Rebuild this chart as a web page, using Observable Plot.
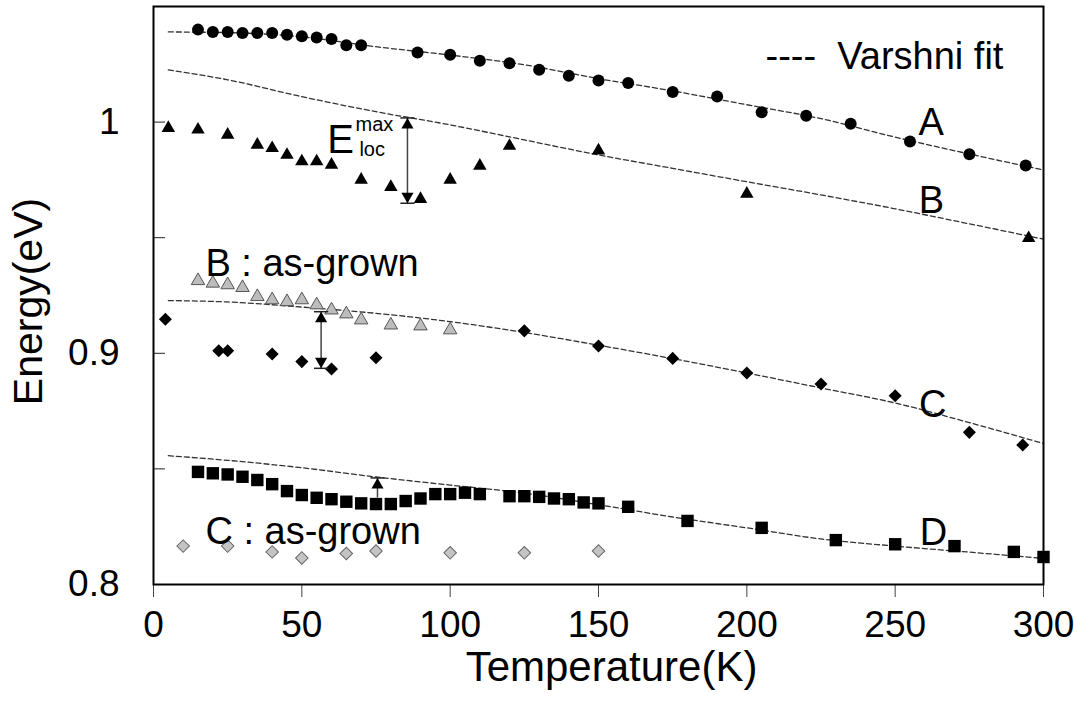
<!DOCTYPE html>
<html>
<head>
<meta charset="utf-8">
<script src="https://cdn.jsdelivr.net/npm/d3@7"></script>
<script src="https://cdn.jsdelivr.net/npm/@observablehq/plot@0.6"></script>
<style>
  html, body { margin: 0; padding: 0; background: #fff; }
  #chart { width: 1077px; height: 707px; }
</style>
</head>
<body>
<div id="chart"></div>
<script>
// ---------- data ----------
// Peak A (filled circles)
const tempA = [15, 20, 25, 30, 35, 40, 45, 50, 55, 60, 65, 70, 89, 100, 110, 120, 130, 140, 150, 160, 175, 190, 205, 220, 235, 255, 275, 294];
const energyA = [1.0400, 1.0390, 1.0390, 1.0385, 1.0385, 1.0385, 1.0378, 1.0371, 1.0366, 1.0359, 1.0332, 1.0332, 1.0301, 1.0291, 1.0265, 1.0255, 1.0226, 1.0200, 1.0180, 1.0169, 1.0130, 1.0111, 1.0043, 1.0027, 0.9993, 0.9916, 0.9861, 0.9812];
// Peak B (filled triangles)
const tempB = [5, 15, 25, 35, 40, 45, 50, 55, 60, 70, 80, 90, 100, 110, 120, 150, 200, 295];
const energyB = [0.9974, 0.9967, 0.9945, 0.9902, 0.9887, 0.9858, 0.9830, 0.9830, 0.9815, 0.9750, 0.9719, 0.9667, 0.9750, 0.9811, 0.9897, 0.9877, 0.9690, 0.9498];
// Peak B, as-grown (grey triangles)
const tempBgrown = [15, 20, 25, 30, 35, 40, 45, 50, 55, 60, 65, 70, 80, 90, 100];
const energyBgrown = [0.9314, 0.9303, 0.9296, 0.9284, 0.9245, 0.9231, 0.9223, 0.9231, 0.9209, 0.9187, 0.9170, 0.9144, 0.9122, 0.9118, 0.9101];
// Peak C (filled diamonds)
const tempC = [4, 22, 25, 40, 50, 60, 75, 125, 150, 175, 200, 225, 250, 275, 293];
const energyC = [0.9147, 0.9011, 0.9011, 0.8997, 0.8964, 0.8932, 0.8981, 0.9097, 0.9032, 0.8978, 0.8915, 0.8867, 0.8816, 0.8658, 0.8603];
// Peak C, as-grown (grey diamonds)
const tempCgrown = [10, 25, 40, 50, 65, 75, 100, 125, 150];
const energyCgrown = [0.8166, 0.8166, 0.8141, 0.8115, 0.8134, 0.8145, 0.8137, 0.8137, 0.8145];
// Peak D (filled squares)
const tempD = [15, 20, 25, 30, 35, 40, 45, 50, 55, 60, 65, 70, 75, 80, 85, 90, 95, 100, 105, 110, 120, 125, 130, 135, 140, 145, 150, 160, 180, 205, 230, 250, 270, 290, 300];
const energyD = [0.8487, 0.8481, 0.8476, 0.8466, 0.8452, 0.8434, 0.8404, 0.8387, 0.8375, 0.8369, 0.8358, 0.8351, 0.8348, 0.8348, 0.8361, 0.8372, 0.8391, 0.8391, 0.8397, 0.8391, 0.8382, 0.8382, 0.8379, 0.8372, 0.8369, 0.8355, 0.8351, 0.8336, 0.8275, 0.8245, 0.8192, 0.8174, 0.8166, 0.8141, 0.8119];

// Varshni fit curves
const fitTemp = [5, 25, 50, 75, 100, 125, 150, 175, 200, 225, 250, 275, 300];
const fitA = [1.0390, 1.0387, 1.0369, 1.0326, 1.0290, 1.0248, 1.0188, 1.0135, 1.0075, 1.0015, 0.9935, 0.9862, 0.9793];
const fitB = [1.0226, 1.0183, 1.0110, 1.0045, 0.9988, 0.9923, 0.9858, 0.9800, 0.9742, 0.9685, 0.9625, 0.9560, 0.9494];
const fitC = [0.9228, 0.9222, 0.9200, 0.9173, 0.9137, 0.9090, 0.9035, 0.8977, 0.8915, 0.8850, 0.8785, 0.8700, 0.8610];
const fitD = [0.8557, 0.8537, 0.8505, 0.8465, 0.8430, 0.8395, 0.8345, 0.8292, 0.8245, 0.8197, 0.8166, 0.8140, 0.8113];

// Localisation-energy arrows (B, C, D)
const arrowTemp = [85.6, 56.5, 75.5];
const arrowTop = [1.0018, 0.9180, 0.8461];
const arrowBottom = [0.9649, 0.8935, 0.8374];
const arrowHasBottomHead = [true, true, false];

// Axis ticks
const xTicks = [0, 50, 100, 150, 200, 250, 300];
const yTickMarks = [0.8, 0.85, 0.9, 0.95, 1.0];
const yTickLabels = [0.8, 0.9, 1.0];

// Annotation texts
const curveNames = ["A", "B", "C", "D"];
const curveNameTemp = [262.1, 262.2, 262.7, 262.9];
const curveNameEnergy = [0.9945, 0.9607, 0.8724, 0.8170];
const noteTexts = ["B : as-grown", "C : as-grown", "----\u00a0\u00a0Varshni fit"];
const noteTemp = [17.5, 17.5, 206.3];
const noteEnergy = [0.9335, 0.8177, 1.0229];

// ---------- build tables ----------
const zip = (ts, es) => ts.map((t, i) => ({T: t, E: es[i]}));
const dataA = zip(tempA, energyA);
const dataB = zip(tempB, energyB);
const dataBg = zip(tempBgrown, energyBgrown);
const dataC = zip(tempC, energyC);
const dataCg = zip(tempCgrown, energyCgrown);
const dataD = zip(tempD, energyD);
const fits = [
  ...zip(fitTemp, fitA).map(d => ({...d, s: "A"})),
  ...zip(fitTemp, fitB).map(d => ({...d, s: "B"})),
  ...zip(fitTemp, fitC).map(d => ({...d, s: "C"})),
  ...zip(fitTemp, fitD).map(d => ({...d, s: "D"}))
];
const arrows = arrowTemp.map((t, i) => ({T: t, top: arrowTop[i], bottom: arrowBottom[i], head: arrowHasBottomHead[i]}));
const curveLabels = curveNames.map((n, i) => ({text: n, T: curveNameTemp[i], E: curveNameEnergy[i]}));
const notes = noteTexts.map((n, i) => ({text: n, T: noteTemp[i], E: noteEnergy[i]}));

const hbar = {draw(context, size) { const w = Math.sqrt(size); context.moveTo(-w / 2, 0); context.lineTo(w / 2, 0); }};

const chart = Plot.plot({
  width: 1077,
  height: 707,
  marginLeft: 153,
  marginRight: 34,
  marginTop: 6,
  marginBottom: 123,
  style: {fontFamily: "'Liberation Sans', Arial, sans-serif", color: "#000", background: "#fff", overflow: "visible"},
  x: {domain: [0, 300]},
  y: {domain: [0.8, 1.05]},
  marks: [
    Plot.axisX({ticks: xTicks, tickSize: 13, tickPadding: 13, fontSize: 37, stroke: "#444", label: null}),
    Plot.axisY({ticks: yTickMarks, tickSize: -12, fill: "none", stroke: "#222", label: null}),
    Plot.axisY({ticks: yTickLabels, tickSize: 0, tickPadding: 34, fontSize: 37, tickFormat: d => d === 1 ? "1" : d3.format(".1f")(d), label: null}),
    Plot.text(["Temperature(K)"], {frameAnchor: "bottom", textAnchor: "middle", lineAnchor: "bottom", dy: 96, dx: 13, fontSize: 42}),
    Plot.text(["Energy(eV)"], {frameAnchor: "left", textAnchor: "middle", lineAnchor: "middle", rotate: -90, dx: -125, dy: 6, fontSize: 41}),
    Plot.line(fits, {x: "T", y: "E", z: "s", stroke: "#333", strokeWidth: 1.3, strokeDasharray: "5,3", curve: "monotone-x"}),
    Plot.dot(dataA, {x: "T", y: "E", r: 6, fill: "#000", symbol: "circle"}),
    Plot.dot(dataB, {x: "T", y: "E", r: 5, fill: "#000", symbol: "triangle"}),
    Plot.dot(dataBg, {x: "T", y: "E", r: 5, fill: "#bdbdbd", stroke: "#555", strokeWidth: 1, symbol: "triangle"}),
    Plot.dot(dataC, {x: "T", y: "E", r: 5.2, fill: "#000", symbol: "square", rotate: 45}),
    Plot.dot(dataCg, {x: "T", y: "E", r: 5, fill: "#c4c4c4", stroke: "#666", strokeWidth: 1, symbol: "square", rotate: 45}),
    Plot.dot(dataD, {x: "T", y: "E", r: 7, fill: "#000", symbol: "square"}),
    Plot.ruleX(arrows, {x: "T", y1: "top", y2: "bottom", stroke: "#444", strokeWidth: 1.5}),
    Plot.dot(arrows, {x: "T", y: "top", symbol: hbar, r: 8, fill: "none", stroke: "#222", strokeWidth: 1.5}),
    Plot.dot(arrows.filter(d => d.head), {x: "T", y: "bottom", symbol: hbar, r: 8, fill: "none", stroke: "#222", strokeWidth: 1.5}),
    Plot.dot(arrows, {x: "T", y: "top", symbol: "triangle", r: 4.5, fill: "#000", dy: 7}),
    Plot.dot(arrows.filter(d => d.head), {x: "T", y: "bottom", symbol: "triangle", r: 4.5, fill: "#000", rotate: 180, dy: -7}),
    Plot.text(curveLabels, {x: "T", y: "E", text: "text", fontSize: 38, textAnchor: "middle", lineAnchor: "bottom"}),
    Plot.text(notes, {x: "T", y: "E", text: "text", fontSize: 38, textAnchor: "start", lineAnchor: "bottom"}),
    Plot.text([{t: "E", T: 58.6, E: 0.9868}], {x: "T", y: "E", text: "t", fontSize: 40, textAnchor: "start", lineAnchor: "bottom"}),
    Plot.text([{t: "max", T: 68.1, E: 0.9961}, {t: "loc", T: 69.4, E: 0.9854}], {x: "T", y: "E", text: "t", fontSize: 20, textAnchor: "start", lineAnchor: "bottom"}),
    Plot.frame({stroke: "#000", strokeWidth: 2})
  ]
});
document.getElementById("chart").append(chart);
</script>
</body>
</html>
